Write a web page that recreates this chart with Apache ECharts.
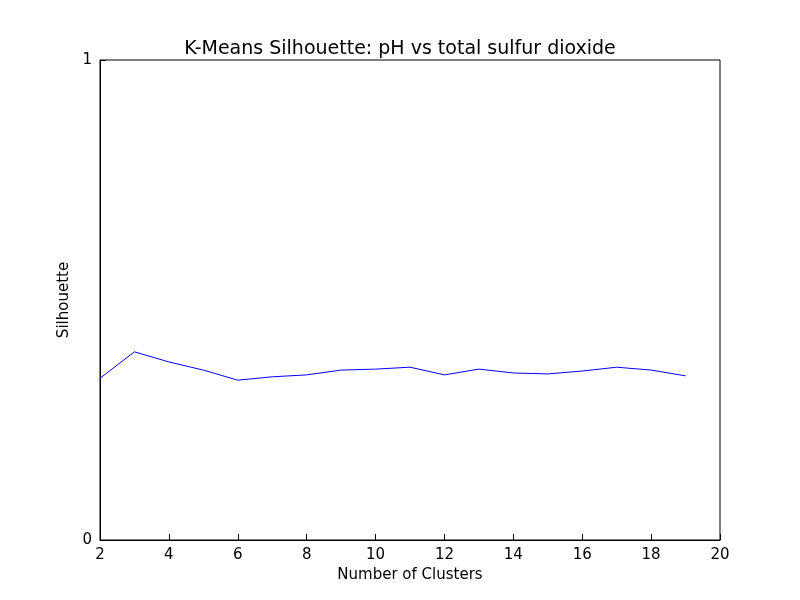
<!DOCTYPE html>
<html>
<head>
<meta charset="utf-8">
<script src="https://cdn.jsdelivr.net/npm/echarts@6/dist/echarts.min.js"></script>
<style>html,body{margin:0;padding:0;background:#fff}#chart{width:800px;height:600px}</style>
</head>
<body>
<div id="chart"></div>
<script>
const clusters = [2,3,4,5,6,7,8,9,10,11,12,13,14,15,16,17,18,19]
const silhouette = [0.337,0.392,0.371,0.354,0.333,0.340,0.344,0.354,0.356,0.360,0.344,0.356,0.348,0.346,0.352,0.360,0.354,0.342]

const points = clusters.map((c,i)=>[c, silhouette[i]])
const font = 'DejaVu Sans'
const axisCommon = {
    axisLine: {lineStyle: {color: '#000'}},
    axisTick: {inside: true, length: 6, lineStyle: {color: '#000'}},
    axisLabel: {color: '#000', fontSize: 15, fontFamily: font},
    splitLine: {show: false},
    nameTextStyle: {color: '#000', fontSize: 15, fontFamily: font}
}
const myChart = echarts.init(document.getElementById('chart'))
myChart.setOption({
    animation: false,
    title: {
        text: 'K-Means Silhouette: pH vs total sulfur dioxide',
        left: 'center', top: 35,
        textStyle: {fontSize: 19, fontWeight: 'normal', color: '#000', fontFamily: font}
    },
    grid: {left: 100, right: 80, top: 60, bottom: 60, show: true, borderColor: '#000', borderWidth: 1},
    xAxis: Object.assign({}, axisCommon, {
        type: 'value', min: 2, max: 20, interval: 2,
        name: 'Number of Clusters', nameLocation: 'middle', nameGap: 28
    }),
    yAxis: Object.assign({}, axisCommon, {
        type: 'value', min: 0, max: 1, interval: 1,
        name: 'Silhouette', nameLocation: 'middle', nameGap: 24
    }),
    series: [{
        type: 'line', data: points, showSymbol: false,
        lineStyle: {color: '#0000ff', width: 1}
    }]
})
</script>
</body>
</html>
